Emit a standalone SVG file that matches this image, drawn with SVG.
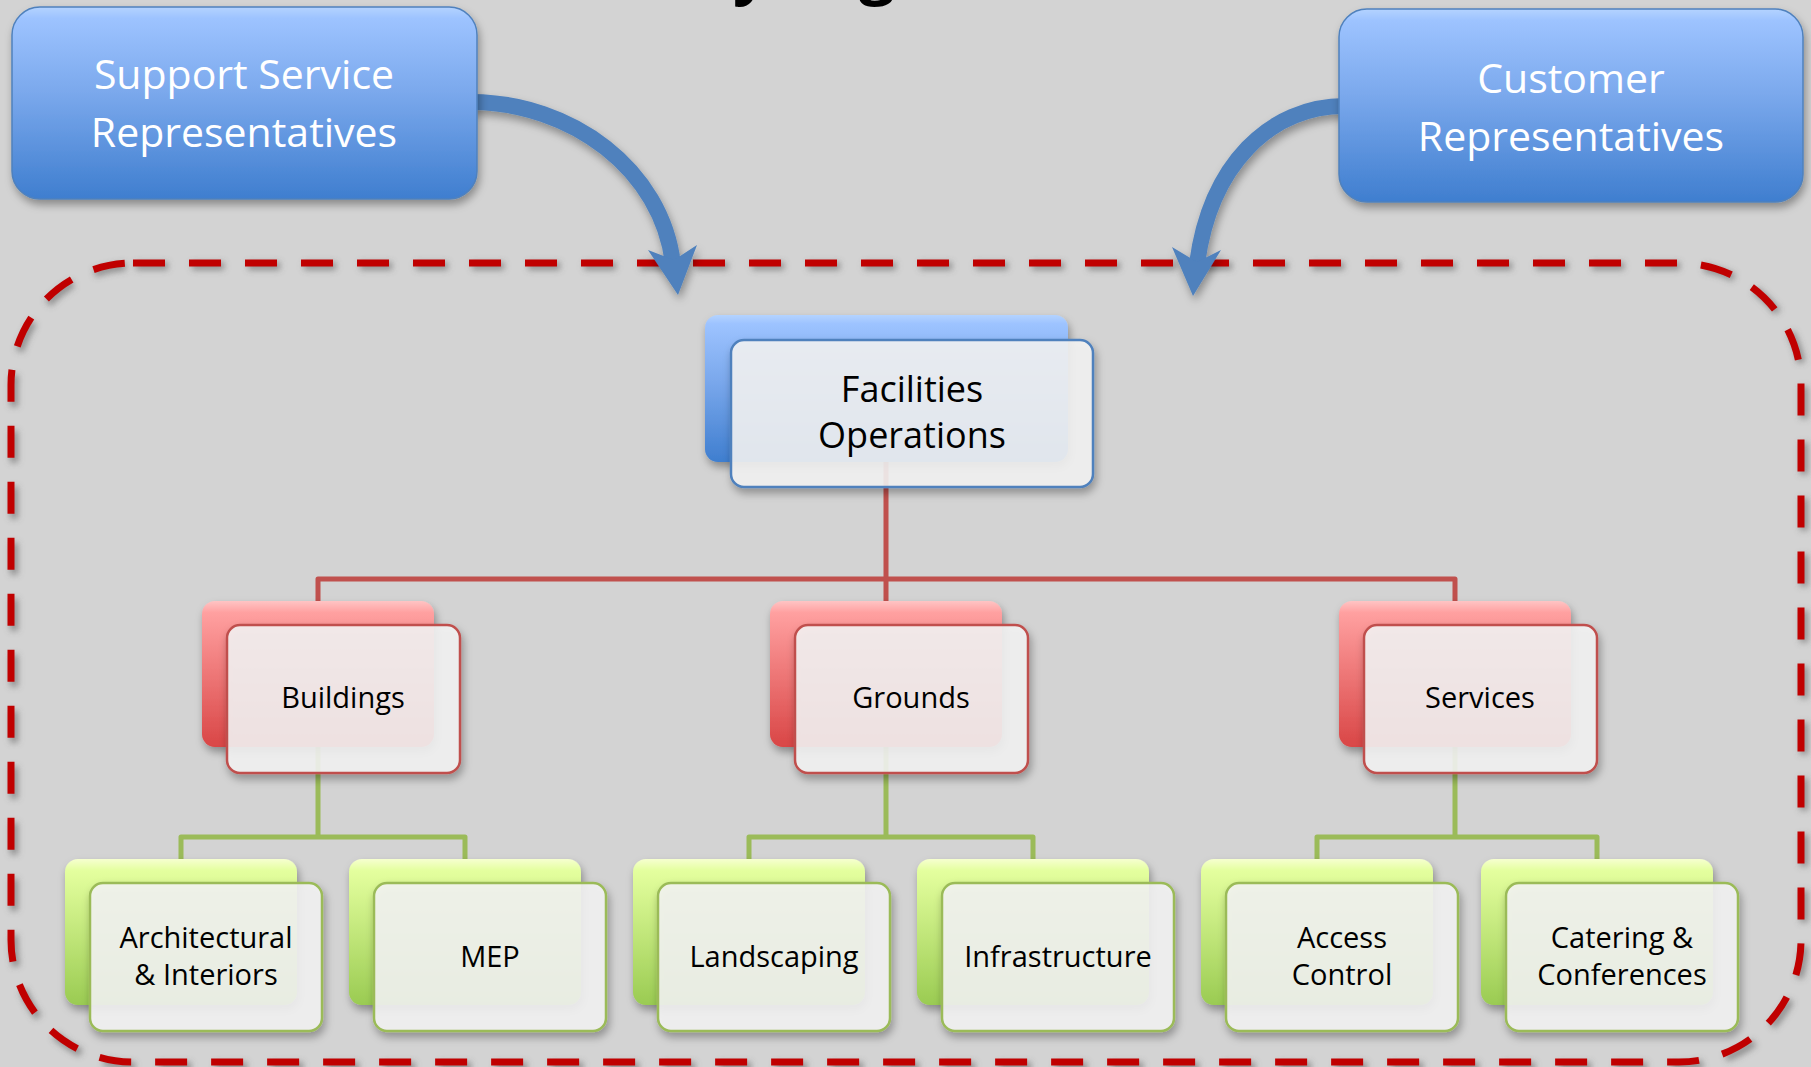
<svg xmlns="http://www.w3.org/2000/svg" width="1811" height="1067" viewBox="0 0 1811 1067">
<defs>
<style>
.lbl{font-family:"Open Sans","Liberation Sans",sans-serif;text-anchor:middle;fill:#000}
.wl{font-family:"Open Sans","Liberation Sans",sans-serif;text-anchor:middle;fill:#fff;font-size:41px}
.front{fill:#f4f4f4;fill-opacity:0.88;stroke-width:2.5}
.fb{stroke:#4f81bd}
.fr{stroke:#c0504d}
.fg{stroke:#9bbb59}
.red{fill:none;stroke:#c0504d;stroke-width:5;stroke-linejoin:round}
.grn{fill:none;stroke:#9bbb59;stroke-width:5;stroke-linejoin:round}
.arr{fill:none;stroke:#4f81bd;stroke-width:16}
.ah{fill:#4f81bd}
</style>
<linearGradient id="gBlue" x1="0" y1="0" x2="0" y2="1">
<stop offset="0" stop-color="#b4d3ff"/>
<stop offset="0.06" stop-color="#9dc3ff"/>
<stop offset="0.45" stop-color="#7aa8ec"/>
<stop offset="1" stop-color="#3f7ecf"/>
</linearGradient>
<linearGradient id="gRed" x1="0" y1="0" x2="0" y2="1">
<stop offset="0" stop-color="#ffc4c4"/>
<stop offset="0.08" stop-color="#ffa0a0"/>
<stop offset="1" stop-color="#d94646"/>
</linearGradient>
<linearGradient id="gGreen" x1="0" y1="0" x2="0" y2="1">
<stop offset="0" stop-color="#f6ffd0"/>
<stop offset="0.08" stop-color="#e4ff9e"/>
<stop offset="1" stop-color="#9acb52"/>
</linearGradient>
<filter id="sh" x="-10%" y="-10%" width="130%" height="140%">
<feDropShadow dx="2" dy="5" stdDeviation="4" flood-color="#000" flood-opacity="0.35"/>
</filter>
<filter id="blur" x="-5%" y="-5%" width="110%" height="110%">
<feGaussianBlur stdDeviation="3"/>
</filter>
</defs>
<rect x="0" y="0" width="1811" height="1067" fill="#d3d3d3"/>

<g id="title-fragment" font-family="'Open Sans','Liberation Sans',sans-serif" font-weight="bold" font-size="64" fill="#000">
<text x="733" y="-9">y</text>
<text x="859" y="-9">g</text>
</g>

<g id="boundary">
<rect x="14" y="266" width="1790" height="800" rx="122" ry="122" fill="none" stroke="#555" stroke-opacity="0.55" stroke-width="8" stroke-dasharray="32 24" filter="url(#blur)"/>
<rect x="11" y="263" width="1790" height="799" rx="122" ry="122" fill="none" stroke="#c00000" stroke-width="7" stroke-dasharray="32 24"/>
</g>

<g id="connectors">
<path class="red" d="M886,462 V601 M318,601 V579 H1455 V601"/>
<path class="grn" d="M318,747 V837 M181,859 V837 H465 V859"/>
<path class="grn" d="M886,747 V837 M749,859 V837 H1033 V859"/>
<path class="grn" d="M1455,747 V837 M1317,859 V837 H1597 V859"/>
<g filter="url(#sh)">
<path class="arr" d="M470,102 C572,102 662,170 673,264"/>
<polygon class="ah" points="678,295 697,245 674,260 648,250"/>
<path class="arr" d="M1345,106 C1270,106 1210,165 1197,264"/>
<polygon class="ah" points="1193,296 1221,250 1197,262 1172,247"/>
</g>
</g>

<g id="support-service-representatives">
<rect x="12" y="7" width="465" height="192" rx="28" fill="url(#gBlue)" stroke="#4f81bd" stroke-width="1.5" filter="url(#sh)"/>
<text class="wl" x="244" y="89">Support Service</text>
<text class="wl" x="244" y="147">Representatives</text>
</g>

<g id="customer-representatives">
<rect x="1339" y="9" width="464" height="193" rx="28" fill="url(#gBlue)" stroke="#4f81bd" stroke-width="1.5" filter="url(#sh)"/>
<text class="wl" x="1571" y="93">Customer</text>
<text class="wl" x="1571" y="151">Representatives</text>
</g>

<g id="facilities-operations">
<rect x="705" y="315" width="363" height="147" rx="13" fill="url(#gBlue)" filter="url(#sh)"/>
<rect class="front fb" x="731" y="340" width="362" height="147" rx="13" filter="url(#sh)"/>
<text class="lbl" x="912" y="402" font-size="36">Facilities</text>
<text class="lbl" x="912" y="448" font-size="36">Operations</text>
</g>

<g id="buildings">
<rect x="202" y="601" width="232" height="146" rx="13" fill="url(#gRed)" filter="url(#sh)"/>
<rect class="front fr" x="227" y="625" width="233" height="148" rx="13" filter="url(#sh)"/>
<text class="lbl" x="343" y="708" font-size="29">Buildings</text>
</g>

<g id="grounds">
<rect x="770" y="601" width="232" height="146" rx="13" fill="url(#gRed)" filter="url(#sh)"/>
<rect class="front fr" x="795" y="625" width="233" height="148" rx="13" filter="url(#sh)"/>
<text class="lbl" x="911" y="708" font-size="29">Grounds</text>
</g>

<g id="services">
<rect x="1339" y="601" width="232" height="146" rx="13" fill="url(#gRed)" filter="url(#sh)"/>
<rect class="front fr" x="1364" y="625" width="233" height="148" rx="13" filter="url(#sh)"/>
<text class="lbl" x="1480" y="708" font-size="29">Services</text>
</g>

<g id="architectural-interiors">
<rect x="65" y="859" width="232" height="146" rx="13" fill="url(#gGreen)" filter="url(#sh)"/>
<rect class="front fg" x="90" y="883" width="232" height="148" rx="13" filter="url(#sh)"/>
<text class="lbl" x="206" y="948" font-size="29">Architectural</text>
<text class="lbl" x="206" y="985" font-size="29">&amp; Interiors</text>
</g>

<g id="mep">
<rect x="349" y="859" width="232" height="146" rx="13" fill="url(#gGreen)" filter="url(#sh)"/>
<rect class="front fg" x="374" y="883" width="232" height="148" rx="13" filter="url(#sh)"/>
<text class="lbl" x="490" y="967" font-size="29">MEP</text>
</g>

<g id="landscaping">
<rect x="633" y="859" width="232" height="146" rx="13" fill="url(#gGreen)" filter="url(#sh)"/>
<rect class="front fg" x="658" y="883" width="232" height="148" rx="13" filter="url(#sh)"/>
<text class="lbl" x="774" y="967" font-size="29">Landscaping</text>
</g>

<g id="infrastructure">
<rect x="917" y="859" width="232" height="146" rx="13" fill="url(#gGreen)" filter="url(#sh)"/>
<rect class="front fg" x="942" y="883" width="232" height="148" rx="13" filter="url(#sh)"/>
<text class="lbl" x="1058" y="967" font-size="29">Infrastructure</text>
</g>

<g id="access-control">
<rect x="1201" y="859" width="232" height="146" rx="13" fill="url(#gGreen)" filter="url(#sh)"/>
<rect class="front fg" x="1226" y="883" width="232" height="148" rx="13" filter="url(#sh)"/>
<text class="lbl" x="1342" y="948" font-size="29">Access</text>
<text class="lbl" x="1342" y="985" font-size="29">Control</text>
</g>

<g id="catering-conferences">
<rect x="1481" y="859" width="232" height="146" rx="13" fill="url(#gGreen)" filter="url(#sh)"/>
<rect class="front fg" x="1506" y="883" width="232" height="148" rx="13" filter="url(#sh)"/>
<text class="lbl" x="1622" y="948" font-size="29">Catering &amp;</text>
<text class="lbl" x="1622" y="985" font-size="29">Conferences</text>
</g>
</svg>
